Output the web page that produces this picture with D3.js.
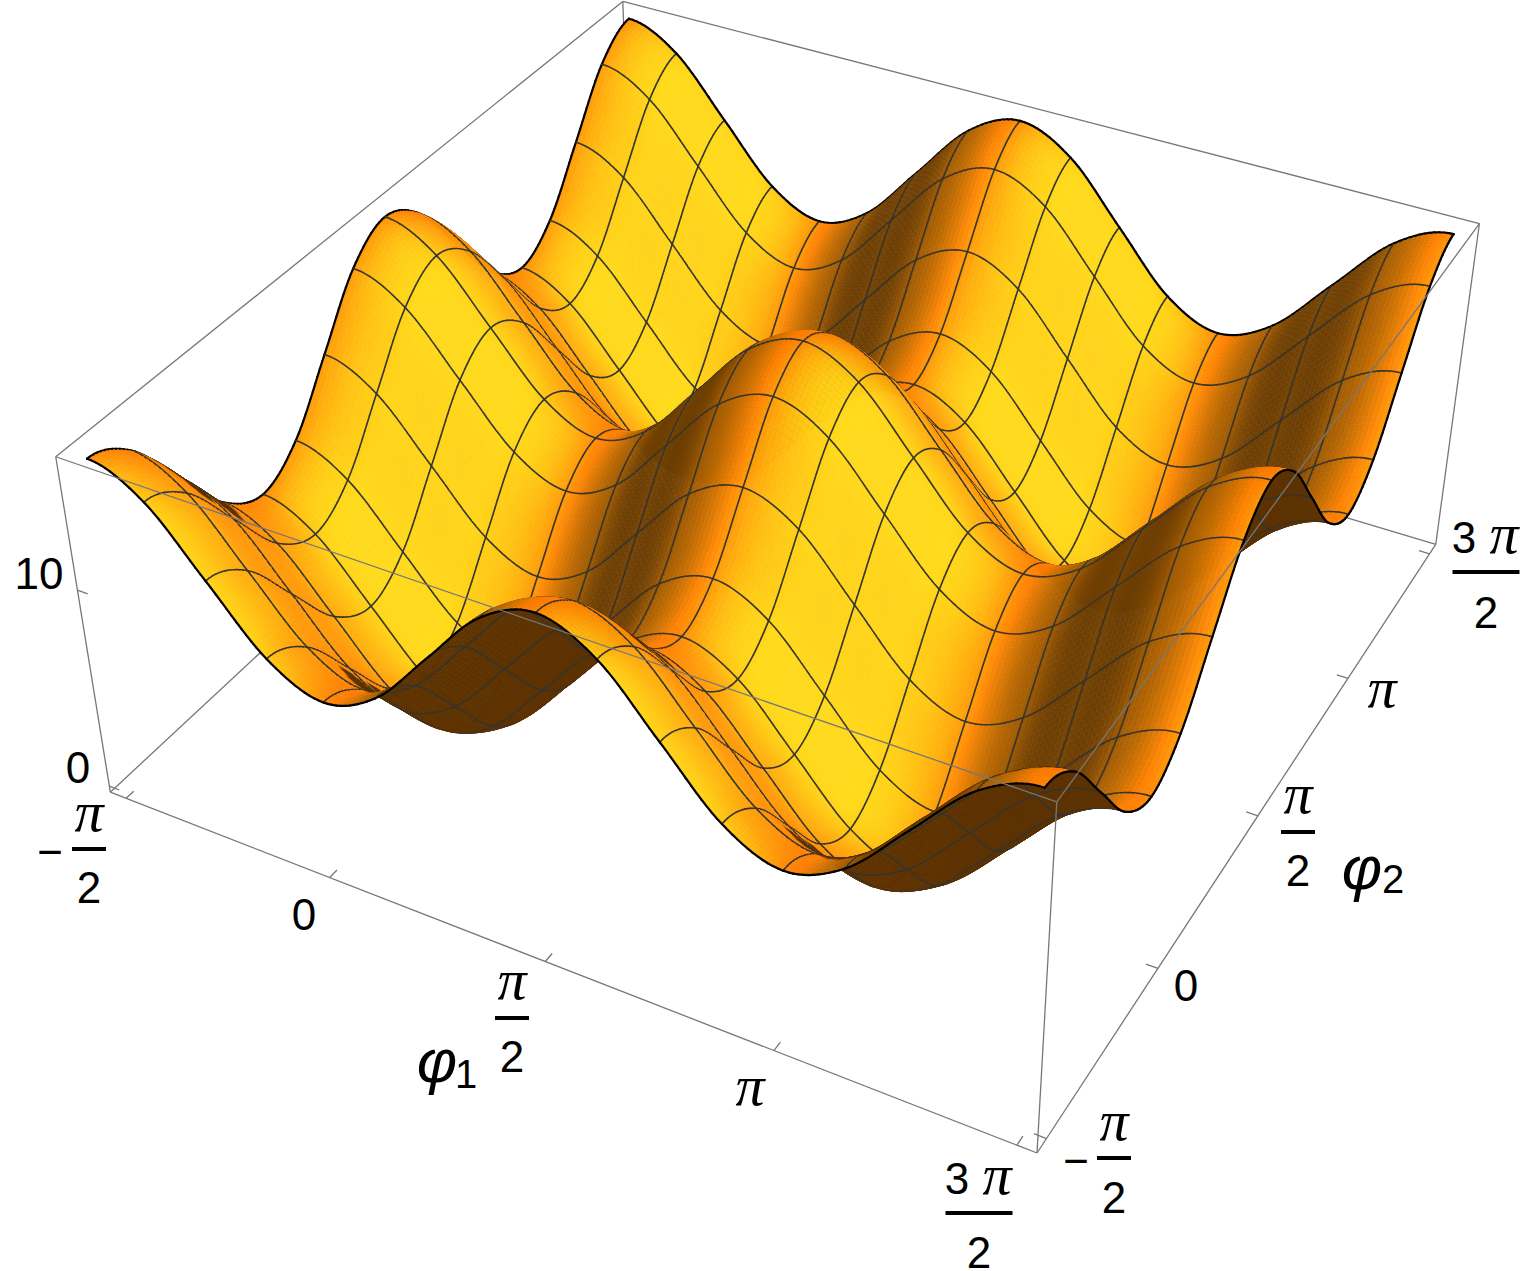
<!DOCTYPE html>
<html><head><meta charset="utf-8">
<script src="https://cdn.jsdelivr.net/npm/d3@7"></script>
<style>html,body{margin:0;background:#fff}svg{display:block}</style></head>
<body><svg id="c" width="1528" height="1271"></svg>
<script>
// ---------- data ----------
const phiSamples = d3.range(17).map(k => -Math.PI/2 + k*Math.PI/8); // mesh positions
const xTickValues = [-Math.PI/2, 0, Math.PI/2, Math.PI, 3*Math.PI/2];
const yTickValues = [-Math.PI/2, 0, Math.PI/2, Math.PI, 3*Math.PI/2];
const zTickValues = [0, 10];
const zRows = [
[16,14.83,12,9.17,8,9.17,12,14.83,16,14.83,12,9.17,8,9.17,12,14.83,16],
[14.83,13.66,10.83,8,6.83,8,10.83,13.66,14.83,13.66,10.83,8,6.83,8,10.83,13.66,14.83],
[12,10.83,8,5.17,4,5.17,8,10.83,12,10.83,8,5.17,4,5.17,8,10.83,12],
[9.17,8,5.17,2.34,1.17,2.34,5.17,8,9.17,8,5.17,2.34,1.17,2.34,5.17,8,9.17],
[8,6.83,4,1.17,0,1.17,4,6.83,8,6.83,4,1.17,0,1.17,4,6.83,8],
[9.17,8,5.17,2.34,1.17,2.34,5.17,8,9.17,8,5.17,2.34,1.17,2.34,5.17,8,9.17],
[12,10.83,8,5.17,4,5.17,8,10.83,12,10.83,8,5.17,4,5.17,8,10.83,12],
[14.83,13.66,10.83,8,6.83,8,10.83,13.66,14.83,13.66,10.83,8,6.83,8,10.83,13.66,14.83],
[16,14.83,12,9.17,8,9.17,12,14.83,16,14.83,12,9.17,8,9.17,12,14.83,16],
[14.83,13.66,10.83,8,6.83,8,10.83,13.66,14.83,13.66,10.83,8,6.83,8,10.83,13.66,14.83],
[12,10.83,8,5.17,4,5.17,8,10.83,12,10.83,8,5.17,4,5.17,8,10.83,12],
[9.17,8,5.17,2.34,1.17,2.34,5.17,8,9.17,8,5.17,2.34,1.17,2.34,5.17,8,9.17],
[8,6.83,4,1.17,0,1.17,4,6.83,8,6.83,4,1.17,0,1.17,4,6.83,8],
[9.17,8,5.17,2.34,1.17,2.34,5.17,8,9.17,8,5.17,2.34,1.17,2.34,5.17,8,9.17],
[12,10.83,8,5.17,4,5.17,8,10.83,12,10.83,8,5.17,4,5.17,8,10.83,12],
[14.83,13.66,10.83,8,6.83,8,10.83,13.66,14.83,13.66,10.83,8,6.83,8,10.83,13.66,14.83],
[16,14.83,12,9.17,8,9.17,12,14.83,16,14.83,12,9.17,8,9.17,12,14.83,16]
]; // zRows[i][j]: i along phi1, j along phi2

// ---------- scales and camera ----------
const pad = 0.02*2*Math.PI;
const xS = d3.scaleLinear().domain([-Math.PI/2-pad, 3*Math.PI/2+pad]).range([0,1]);
const yS = d3.scaleLinear().domain([-Math.PI/2-pad, 3*Math.PI/2+pad]).range([0,1]);
const zS = d3.scaleLinear().domain([-0.32, 16.32]).range([0,1]);
const boxRatioZ = 0.4;

// screen position of the eight box corners defines the perspective camera
const cornerFit = [
 [0,0,0,109,791],[1,0,0,1037,1153],[1,1,0,1436,543],[0,1,0,635,307],
 [0,0,1,57,457],[1,0,1,1057,803],[1,1,1,1479,224],[0,1,1,622,0]];
function solve(A,b){const n=b.length,M=A.map((r,i)=>[...r,b[i]]);
 for(let c=0;c<n;c++){let p=c;for(let r=c+1;r<n;r++)if(Math.abs(M[r][c])>Math.abs(M[p][c]))p=r;
  [M[c],M[p]]=[M[p],M[c]];
  for(let r=0;r<n;r++){if(r===c)continue;const f=M[r][c]/M[c][c];for(let k=c;k<=n;k++)M[r][k]-=f*M[c][k];}}
 return M.map((r,i)=>r[n]/r[i]);}
const P=(()=>{const rows=[],rhs=[];
 cornerFit.forEach(([x,y,z,u,v])=>{
  rows.push([x,y,z,1,0,0,0,0,-u*x,-u*y,-u*z]);rhs.push(u);
  rows.push([0,0,0,0,x,y,z,1,-v*x,-v*y,-v*z]);rhs.push(v);});
 const N=d3.range(11).map(a=>d3.range(11).map(b=>d3.sum(rows,r=>r[a]*r[b])));
 const B=d3.range(11).map(a=>d3.sum(rows,(r,i)=>r[a]*rhs[i]));
 return solve(N,B);})();
function proj(x,y,z){const w=P[8]*x+P[9]*y+P[10]*z+1;
 return [(P[0]*x+P[1]*y+P[2]*z+P[3])/w,(P[4]*x+P[5]*y+P[6]*z+P[7])/w];}

// camera axes in box coordinates (x,y,z*ratio)
const camR=[.882,.471,0],camU=[-.2875,.525,.801],camV=[.377,-.706,.598];
const norm=v=>{const l=Math.hypot(...v);return v.map(a=>a/l);};
const dot=(a,b)=>a[0]*b[0]+a[1]*b[1]+a[2]*b[2];
const toCam=n=>[dot(n,camR),dot(n,camU),dot(n,camV)];
const lightR=norm([1.5,1.5,2]),lightG=norm([1.5,-.5,2]);

// smooth drawing surface through the read samples
function cr(a,b,c,d,t){return .5*((2*b)+(c-a)*t+(2*a-5*b+4*c-d)*t*t+(3*b-a-3*c+d)*t*t*t);}
const nS=zRows.length;
const zAt=(i,j)=>{ // mirrored ghost samples at the borders
 const m=k=>k<0?-k:(k>=nS?2*(nS-1)-k:k);return zRows[m(i)][m(j)];};
function surfZ(s,t){const i=Math.min(Math.floor(s),nS-2),j=Math.min(Math.floor(t),nS-2),fs=s-i,ft=t-j;
 const col=d3.range(-1,3).map(d=>cr(zAt(i+d,j-1),zAt(i+d,j),zAt(i+d,j+1),zAt(i+d,j+2),ft));
 return cr(col[0],col[1],col[2],col[3],fs);}

const sub=12, N=(nS-1)*sub;
const phiOf=k=>phiSamples[0]+(phiSamples[1]-phiSamples[0])*k/sub;
const wx=d3.range(N+1).map(k=>xS(phiOf(k)));
const wy=wx.map((_,k)=>yS(phiOf(k)));
const wz=d3.range(N+1).map(i=>d3.range(N+1).map(j=>zS(surfZ(i/sub,j/sub))));
const scr=d3.range(N+1).map(i=>d3.range(N+1).map(j=>proj(wx[i],wy[j],wz[i][j])));

const softMin=(a,b,k=22)=>-Math.log(Math.exp(-k*a)+Math.exp(-k*b))/k;
function shade(i,j){
 const dX=wx[i+1]-wx[i],dY=wy[j+1]-wy[j];
 const dzx=boxRatioZ*((wz[i+1][j]+wz[i+1][j+1])-(wz[i][j]+wz[i][j+1]))/2;
 const dzy=boxRatioZ*((wz[i][j+1]+wz[i+1][j+1])-(wz[i][j]+wz[i+1][j]))/2;
 const nc=toCam(norm([-dzx*dY,-dX*dzy,dX*dY]));
 const ncRed=toCam(norm([-dzx*dY,-dX*dzy*.3,dX*dY]));
 let r=.365,g=.196,b=.012;
 if(nc[2]>0){
  const d1=Math.max(0,dot(ncRed,lightR)),d2=Math.max(0,dot(nc,lightG));
  r=.36+.98*d1;
  const cap=.57*r+.45*Math.max(0,r-1);
  g=softMin(.5+.44*d2*d2+.02*d2,cap);
  b=.012+.11*d2*d2;
 }
 const c=v=>Math.round(255*Math.min(1,v));
 return `rgb(${c(r)},${c(g)},${c(b)})`;
}

// ---------- draw list, far to near ----------
const items=[];
const seg=(a,b,cls)=>items.push({kind:cls,pts:[a,b]});
for(let i=0;i<N;i++)for(let j=N-1;j>=0;j--){
 const q=[scr[i][j],scr[i+1][j],scr[i+1][j+1],scr[i][j+1]];
 items.push({kind:'facet',pts:q,fill:shade(i,j)});
 if(i%sub===0) seg(scr[i][j],scr[i][j+1],i===0?'edge':'mesh');
 if((j+1)%sub===0) seg(scr[i][j+1],scr[i+1][j+1],j===N-1?'edge':'mesh');
 if(j===0) seg(scr[i][0],scr[i+1][0],'edge');
 if(i===N-1) seg(scr[N][j],scr[N][j+1],'edge');
}
const svg=d3.select('#c');
const boxC=(x,y,z)=>proj(x,y,z);
const line3=d3.line().digits(2);
const edgeStyle=s=>s.attr('stroke','#777').attr('stroke-width',1.3).attr('fill','none');
const backEdges=[[[0,0,1],[0,1,1]],[[0,1,1],[1,1,1]],[[0,0,0],[0,1,0]],[[0,1,0],[1,1,0]],[[0,1,0],[0,1,1]]];
const frontEdges=[[[0,0,1],[1,0,1]],[[1,0,1],[1,1,1]],[[0,0,0],[1,0,0]],[[1,0,0],[1,1,0]],[[0,0,0],[0,0,1]],[[1,0,0],[1,0,1]],[[1,1,0],[1,1,1]]];
svg.append('g').selectAll('path').data(backEdges).join('path').attr('d',e=>line3(e.map(p=>boxC(...p)))).call(edgeStyle);

svg.append('g').attr('id','surface').selectAll('path').data(items).join('path')
 .attr('d',d=>d.kind==='facet'?line3(d.pts)+'Z':line3(d.pts))
 .attr('fill',d=>d.kind==='facet'?d.fill:'none')
 .attr('stroke',d=>d.kind==='facet'?d.fill:(d.kind==='edge'?'#000':'#35352e'))
 .attr('stroke-width',d=>d.kind==='facet'?.6:(d.kind==='edge'?2.2:1.6))
 .attr('stroke-linecap',d=>d.kind==='facet'?'butt':'round')
 .attr('stroke-linejoin','round');

svg.append('g').selectAll('path').data(frontEdges).join('path').attr('d',e=>line3(e.map(p=>boxC(...p)))).call(edgeStyle);

// ticks
const tl=.012;
const ticks=[
 ...xTickValues.map(v=>[[xS(v),0,0],[xS(v),tl,0]]),
 ...yTickValues.map(v=>[[1,yS(v),0],[1-tl,yS(v),0]]),
 ...zTickValues.map(v=>[[0,0,zS(v)],[tl,0,zS(v)]])];
svg.append('g').selectAll('path').data(ticks).join('path').attr('d',e=>line3(e.map(p=>boxC(...p)))).call(edgeStyle);

// ---------- labels ----------
const sans='"Liberation Sans"', piFont='"Liberation Serif"';
const fs=44;
const txt=(g,s,x,y,opt={})=>g.append('text').attr('x',x).attr('y',y).attr('text-anchor',opt.anchor||'middle')
 .attr('font-family',opt.font||sans).attr('font-size',opt.size||fs).attr('font-style',opt.italic?'italic':'normal').text(s);
const g=svg.append('g').attr('fill','#000');
const piOpt={font:piFont,italic:true,size:58};
const bar=(x0,x1,y)=>g.append('rect').attr('x',x0).attr('y',y-2).attr('width',x1-x0).attr('height',4).attr('fill','#000');
const plainLabels=[['10',39,589],['0',78,783],['0',304,930],['0',1186,1001]];
plainLabels.forEach(([s,x,y])=>txt(g,s,x,y));
const piLabels=[[750,1105],[1382,707]];
piLabels.forEach(([x,y])=>txt(g,'π',x,y,piOpt));
const fracs=[
 {num:'π',sign:'−',cx:89,numY:831,barY:849,denY:903,w:34,sx:50,sy:867},
 {num:'π',cx:512,numY:999,barY:1018,denY:1072,w:34},
 {num:'3 π',cx:979,numY:1194,barY:1213,denY:1268,w:67},
 {num:'π',sign:'−',cx:1114,numY:1140,barY:1158,denY:1213,w:34,sx:1076,sy:1176},
 {num:'π',cx:1298,numY:813,barY:832,denY:886,w:34},
 {num:'3 π',cx:1486,numY:553,barY:572,denY:628,w:67}];
fracs.forEach(f=>{
 if(f.num==='π') txt(g,'π',f.cx,f.numY,piOpt);
 else {txt(g,'3',f.cx-22,f.numY);txt(g,'π',f.cx+18,f.numY,piOpt);}
 bar(f.cx-f.w/2,f.cx+f.w/2,f.barY);
 txt(g,'2',f.cx,f.denY);
 if(f.sign) txt(g,f.sign,f.sx,f.sy);
});
const phiOpt={font:sans,italic:true,size:62};
txt(g,'φ',437,1082,phiOpt); txt(g,'1',466,1088,{size:40});
txt(g,'φ',1362,889,phiOpt); txt(g,'2',1393,893,{size:40});
</script></body></html>
